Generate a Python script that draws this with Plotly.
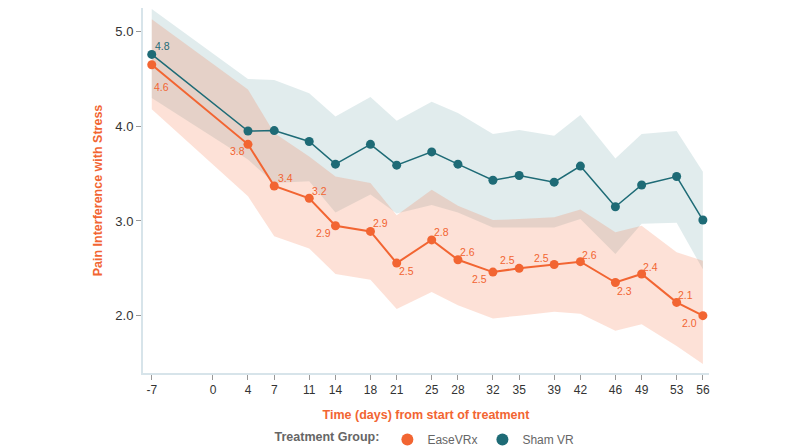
import plotly.graph_objects as go

days = [-7, 4, 7, 11, 14, 18, 21, 25, 28, 32, 35, 39, 42, 46, 49, 53, 56]

ease_mean = [4.65, 3.81, 3.37, 3.24, 2.95, 2.89, 2.555, 2.80, 2.59, 2.46, 2.50, 2.54, 2.57, 2.35, 2.44, 2.14, 2.00]
ease_upper = [5.13, 4.39, 3.93, 3.68, 3.47, 3.40, 3.06, 3.33, 3.16, 3.01, 3.02, 3.04, 3.12, 2.88, 2.95, 2.67, 2.58]
ease_lower = [4.18, 3.26, 2.84, 2.71, 2.44, 2.38, 2.07, 2.25, 2.11, 1.97, 2.00, 2.04, 2.02, 1.84, 1.91, 1.68, 1.49]
ease_labels = ["4.6", "3.8", "3.4", "3.2", "2.9", "2.9", "2.5", "2.8", "2.6", "2.5", "2.5", "2.5", "2.6", "2.3", "2.4", "2.1", "2.0"]

sham_mean = [4.76, 3.95, 3.955, 3.84, 3.60, 3.81, 3.59, 3.73, 3.60, 3.43, 3.48, 3.41, 3.58, 3.15, 3.38, 3.47, 3.01]
sham_upper = [5.24, 4.50, 4.49, 4.35, 4.105, 4.31, 4.06, 4.26, 4.14, 3.92, 3.96, 3.90, 4.12, 3.66, 3.92, 3.95, 3.52]
sham_lower = [4.30, 3.65, 3.40, 3.42, 3.09, 3.28, 3.08, 3.17, 3.09, 2.93, 2.93, 2.93, 3.02, 2.65, 2.97, 2.98, 2.49]
sham_labels = ["4.8"]

x_ticks = [-7, 0, 4, 7, 11, 14, 18, 21, 25, 28, 32, 35, 39, 42, 46, 49, 53, 56]
y_ticks = [2.0, 3.0, 4.0, 5.0]

# label placement (style only): pixel shift of each label from its point
ease_label_dx = [10, -10, 11, 10, -12, 10, 10, 10, 10, -13, -12, -13, 9, 9, 9, 9, -13]
ease_label_dy = [-22, -7, 8, 7, -7, 8, -8, 8, 8, -7, 8, 7, 7, -8, 7, 7, -7]
sham_label_dx = [10.5]
sham_label_dy = [8]

ORANGE = "#f26532"
TEAL = "#1e6b76"
FONT = "Liberation Sans"

fig = go.Figure()

# Sham band
fig.add_trace(go.Scatter(x=days, y=sham_upper, mode="lines", line=dict(width=0),
                         showlegend=False, hoverinfo="skip"))
fig.add_trace(go.Scatter(x=days, y=sham_lower, mode="lines", line=dict(width=0),
                         fill="tonexty", fillcolor="rgba(40,120,126,0.14)",
                         showlegend=False, hoverinfo="skip"))
# EaseVRx band
fig.add_trace(go.Scatter(x=days, y=ease_upper, mode="lines", line=dict(width=0),
                         showlegend=False, hoverinfo="skip"))
fig.add_trace(go.Scatter(x=days, y=ease_lower, mode="lines", line=dict(width=0),
                         fill="tonexty", fillcolor="rgba(245,105,55,0.2)",
                         showlegend=False, hoverinfo="skip"))

# Lines
fig.add_trace(go.Scatter(x=days, y=sham_mean, mode="lines+markers",
                         line=dict(color=TEAL, width=1.5),
                         marker=dict(color=TEAL, size=9),
                         showlegend=False))
fig.add_trace(go.Scatter(x=days, y=ease_mean, mode="lines+markers",
                         line=dict(color=ORANGE, width=2),
                         marker=dict(color=ORANGE, size=9),
                         showlegend=False))

# Data labels
for d, v, t, dx, dy in zip(days, ease_mean, ease_labels, ease_label_dx, ease_label_dy):
    fig.add_annotation(x=d, y=v, text=t, showarrow=False, xshift=dx, yshift=dy,
                       font=dict(color=ORANGE, size=10.5, family=FONT))
for d, v, t, dx, dy in zip(days, sham_mean, sham_labels, sham_label_dx, sham_label_dy):
    fig.add_annotation(x=d, y=v, text=t, showarrow=False, xshift=dx, yshift=dy,
                       font=dict(color=TEAL, size=10.5, family=FONT))

# Legend entries
fig.add_trace(go.Scatter(x=[None], y=[None], mode="markers", name="EaseVRx",
                         marker=dict(color=ORANGE, size=12)))
fig.add_trace(go.Scatter(x=[None], y=[None], mode="markers", name="Sham VR",
                         marker=dict(color=TEAL, size=12)))

fig.update_layout(
    width=800, height=448,
    margin=dict(l=135, r=99, t=0, b=82.5),
    paper_bgcolor="white", plot_bgcolor="white",
    font=dict(family=FONT, color="#333"),
    showlegend=True,
    legend=dict(orientation="h", x=0.5, xanchor="center", y=-0.182, yanchor="middle",
                traceorder="normal",
                title=dict(text="<b>Treatment Group:</b>", font=dict(size=12.5, color="#666")),
                font=dict(size=12, color="#666"), itemwidth=30),
    xaxis=dict(range=[-8.0, 56.7], tickvals=x_ticks, ticktext=[str(v) for v in x_ticks],
               showgrid=False, zeroline=False, showline=True, linecolor="#d7e4ea", linewidth=2,
               ticks="outside", ticklen=5, tickcolor="#999", tickfont=dict(size=12, color="#333"),
               title=dict(text="<b>Time (days) from start of treatment</b>",
                          font=dict(size=12.5, color=ORANGE), standoff=14)),
    yaxis=dict(range=[1.394, 5.25], tickvals=y_ticks, ticktext=[f"{v:.1f}" for v in y_ticks],
               showgrid=False, zeroline=False, showline=True, linecolor="#d7e4ea", linewidth=2,
               ticks="outside", ticklen=5, tickcolor="#999", tickfont=dict(size=13, color="#333"),
               title=dict(text="<b>Pain Interference with Stress</b>",
                          font=dict(size=12.5, color=ORANGE), standoff=10)),
)

fig.write_html("out.html")
